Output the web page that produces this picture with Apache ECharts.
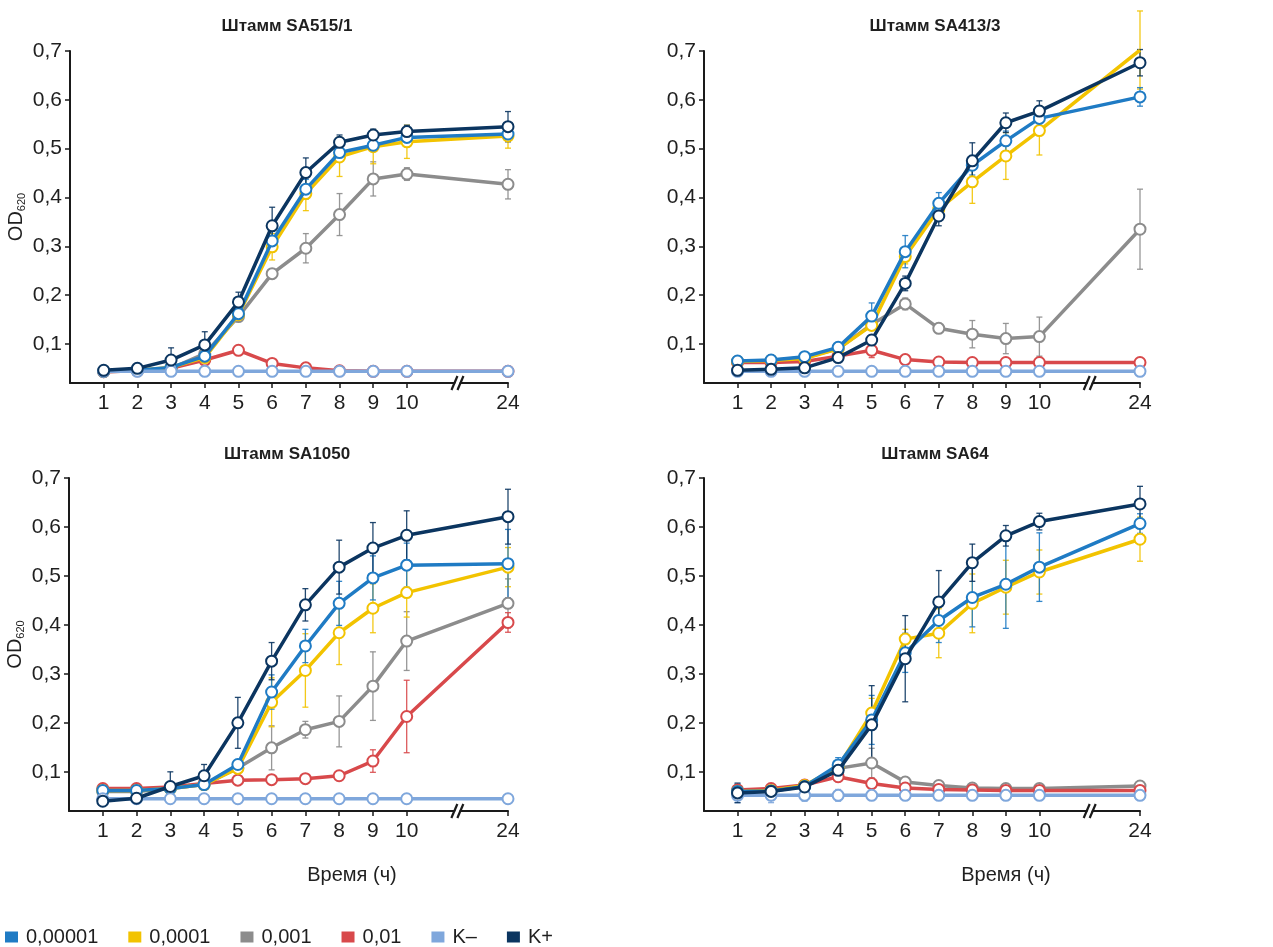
<!DOCTYPE html>
<html>
<head>
<meta charset="utf-8">
<title>OD620</title>
<script src="https://cdn.jsdelivr.net/npm/echarts@6/dist/echarts.min.js"></script>
<style>
  html, body { margin: 0; padding: 0; background: #fff; }
  #chart { width: 1273px; height: 947px; }
</style>
</head>
<body>
<div id="chart"></div>
<script>
  /******************/
  //region    //data

  const hours = [1, 2, 3, 4, 5, 6, 7, 8, 9, 10, 24];
  const yTicks = [0.1, 0.2, 0.3, 0.4, 0.5, 0.6, 0.7];
  const seriesNames = ['0,00001', '0,0001', '0,001', '0,01', 'K\u2013', 'K+'];
  const strainTitles = ['Штамм SA515/1', 'Штамм SA413/3', 'Штамм SA1050', 'Штамм SA64'];

  // Штамм SA515/1
  const sa515_c00001 = [0.044, 0.046, 0.052, 0.075, 0.162, 0.311, 0.417, 0.492, 0.507, 0.523, 0.530];
  const sa515_c00001_err = [0, 0, 0, 0.008, 0.010, 0.020, 0.020, 0.015, 0.012, 0.010, 0.015];
  const sa515_c0001 = [0.044, 0.046, 0.052, 0.072, 0.160, 0.299, 0.408, 0.483, 0.504, 0.514, 0.526];
  const sa515_c0001_err = [0, 0, 0, 0.005, 0.010, 0.027, 0.035, 0.040, 0.035, 0.034, 0.025];
  const sa515_c001 = [0.043, 0.045, 0.050, 0.080, 0.156, 0.244, 0.296, 0.365, 0.438, 0.448, 0.427];
  const sa515_c001_err = [0, 0, 0, 0, 0.008, 0.010, 0.030, 0.043, 0.035, 0.013, 0.030];
  const sa515_c01 = [0.043, 0.045, 0.050, 0.067, 0.087, 0.060, 0.051, 0.045, 0.044, 0.044, 0.044];
  const sa515_c01_err = [0, 0, 0, 0, 0.006, 0, 0, 0, 0, 0, 0];
  const sa515_kNeg = [0.044, 0.044, 0.044, 0.044, 0.044, 0.044, 0.044, 0.044, 0.044, 0.044, 0.044];
  const sa515_kNeg_err = [0, 0, 0, 0, 0, 0, 0, 0, 0, 0, 0];
  const sa515_kPos = [0.046, 0.050, 0.067, 0.098, 0.186, 0.342, 0.451, 0.513, 0.528, 0.535, 0.545];
  const sa515_kPos_err = [0, 0, 0.025, 0.027, 0.020, 0.038, 0.030, 0.015, 0.012, 0.013, 0.031];

  // Штамм SA413/3
  const sa413_c00001 = [0.065, 0.067, 0.074, 0.093, 0.157, 0.289, 0.388, 0.466, 0.516, 0.562, 0.606];
  const sa413_c00001_err = [0, 0, 0, 0.005, 0.027, 0.033, 0.022, 0.020, 0.020, 0.020, 0.019];
  const sa413_c0001 = [0.064, 0.066, 0.070, 0.090, 0.138, 0.279, 0.376, 0.432, 0.485, 0.537, 0.702];
  const sa413_c0001_err = [0, 0, 0, 0, 0.010, 0.015, 0.020, 0.044, 0.048, 0.050, 0.080];
  const sa413_c001 = [0.064, 0.066, 0.072, 0.090, 0.140, 0.182, 0.132, 0.120, 0.111, 0.115, 0.335];
  const sa413_c001_err = [0, 0, 0, 0, 0, 0.012, 0.010, 0.028, 0.031, 0.040, 0.082];
  const sa413_c01 = [0.062, 0.062, 0.064, 0.075, 0.087, 0.068, 0.063, 0.062, 0.062, 0.062, 0.062];
  const sa413_c01_err = [0, 0, 0, 0, 0.015, 0, 0, 0, 0, 0, 0];
  const sa413_kNeg = [0.044, 0.044, 0.044, 0.044, 0.044, 0.044, 0.044, 0.044, 0.044, 0.044, 0.044];
  const sa413_kNeg_err = [0, 0, 0, 0, 0, 0, 0, 0, 0, 0, 0];
  const sa413_kPos = [0.046, 0.048, 0.051, 0.072, 0.108, 0.224, 0.362, 0.475, 0.553, 0.577, 0.676];
  const sa413_kPos_err = [0, 0, 0, 0, 0.010, 0.015, 0.020, 0.037, 0.020, 0.021, 0.027];

  // Штамм SA1050
  const sa1050_c00001 = [0.062, 0.062, 0.066, 0.074, 0.115, 0.263, 0.357, 0.444, 0.496, 0.522, 0.525];
  const sa1050_c00001_err = [0, 0, 0, 0, 0.010, 0.035, 0.034, 0.045, 0.045, 0.045, 0.070];
  const sa1050_c0001 = [0.062, 0.062, 0.066, 0.074, 0.107, 0.242, 0.307, 0.384, 0.434, 0.466, 0.518];
  const sa1050_c0001_err = [0, 0, 0, 0, 0, 0.050, 0.075, 0.065, 0.050, 0.050, 0.040];
  const sa1050_c001 = [0.060, 0.060, 0.066, 0.074, 0.108, 0.149, 0.186, 0.203, 0.275, 0.367, 0.444];
  const sa1050_c001_err = [0, 0, 0, 0, 0, 0.045, 0.017, 0.052, 0.070, 0.060, 0.050];
  const sa1050_c01 = [0.066, 0.066, 0.069, 0.076, 0.083, 0.084, 0.086, 0.092, 0.122, 0.213, 0.405];
  const sa1050_c01_err = [0, 0, 0, 0, 0, 0, 0, 0, 0.023, 0.074, 0.020];
  const sa1050_kNeg = [0.045, 0.045, 0.045, 0.045, 0.045, 0.045, 0.045, 0.045, 0.045, 0.045, 0.045];
  const sa1050_kNeg_err = [0, 0, 0, 0, 0, 0, 0, 0, 0, 0, 0];
  const sa1050_kPos = [0.040, 0.046, 0.070, 0.092, 0.200, 0.326, 0.441, 0.518, 0.557, 0.583, 0.621];
  const sa1050_kPos_err = [0, 0, 0.030, 0.023, 0.052, 0.038, 0.033, 0.055, 0.052, 0.050, 0.056];

  // Штамм SA64
  const sa64_c00001 = [0.060, 0.061, 0.070, 0.114, 0.206, 0.343, 0.409, 0.456, 0.483, 0.518, 0.607];
  const sa64_c00001_err = [0.015, 0.012, 0.010, 0.015, 0.050, 0.040, 0.045, 0.060, 0.090, 0.070, 0.020];
  const sa64_c0001 = [0.060, 0.062, 0.072, 0.110, 0.220, 0.371, 0.383, 0.444, 0.477, 0.508, 0.575];
  const sa64_c0001_err = [0, 0, 0, 0.010, 0.030, 0.020, 0.050, 0.060, 0.055, 0.045, 0.045];
  const sa64_c001 = [0.060, 0.062, 0.072, 0.107, 0.118, 0.079, 0.072, 0.067, 0.066, 0.066, 0.071];
  const sa64_c001_err = [0, 0, 0, 0, 0.030, 0, 0, 0, 0, 0, 0];
  const sa64_c01 = [0.063, 0.066, 0.073, 0.090, 0.076, 0.067, 0.064, 0.063, 0.062, 0.062, 0.062];
  const sa64_c01_err = [0.010, 0.010, 0.005, 0.010, 0, 0, 0, 0, 0, 0, 0];
  const sa64_kNeg = [0.052, 0.052, 0.052, 0.052, 0.052, 0.052, 0.052, 0.052, 0.052, 0.052, 0.052];
  const sa64_kNeg_err = [0.015, 0.015, 0.012, 0.012, 0.010, 0.010, 0.010, 0.010, 0.010, 0.010, 0.010];
  const sa64_kPos = [0.057, 0.060, 0.069, 0.103, 0.196, 0.331, 0.447, 0.527, 0.582, 0.611, 0.647];
  const sa64_kPos_err = [0.020, 0.015, 0.010, 0.020, 0.080, 0.088, 0.064, 0.038, 0.021, 0.017, 0.036];

  //endregion

  /******************/
  //region    //layout

  const colors = ['#1f7bc4', '#f2c300', '#8c8c8c', '#d8494b', '#7fa7dc', '#0b3560'];
  // draw order: gray, red, yellow, blue, K-, K+
  const drawOrder = [2, 3, 1, 0, 4, 5];
  const textColor = '#1f1f1f';
  const narrow = "'Liberation Sans Narrow', 'Arial Narrow', 'Liberation Sans', sans-serif";
  const regular = "'Liberation Sans', Arial, sans-serif";

  const grids = [
    {left: 70, top: 51, width: 438, height: 332},
    {left: 704, top: 51, width: 436, height: 332},
    {left: 69, top: 478, width: 439, height: 333},
    {left: 704, top: 478, width: 436, height: 333},
  ];

  const panels = [
    [[sa515_c00001, sa515_c00001_err], [sa515_c0001, sa515_c0001_err], [sa515_c001, sa515_c001_err],
     [sa515_c01, sa515_c01_err], [sa515_kNeg, sa515_kNeg_err], [sa515_kPos, sa515_kPos_err]],
    [[sa413_c00001, sa413_c00001_err], [sa413_c0001, sa413_c0001_err], [sa413_c001, sa413_c001_err],
     [sa413_c01, sa413_c01_err], [sa413_kNeg, sa413_kNeg_err], [sa413_kPos, sa413_kPos_err]],
    [[sa1050_c00001, sa1050_c00001_err], [sa1050_c0001, sa1050_c0001_err], [sa1050_c001, sa1050_c001_err],
     [sa1050_c01, sa1050_c01_err], [sa1050_kNeg, sa1050_kNeg_err], [sa1050_kPos, sa1050_kPos_err]],
    [[sa64_c00001, sa64_c00001_err], [sa64_c0001, sa64_c0001_err], [sa64_c001, sa64_c001_err],
     [sa64_c01, sa64_c01_err], [sa64_kNeg, sa64_kNeg_err], [sa64_kPos, sa64_kPos_err]],
  ];

  // the axis is broken between 10 and 24 h
  function axisPos(h) {
    return h <= 10 ? h : 13;
  }
  const breakPos = 11.5;
  const yMin = 0.02, yMax = 0.7;

  //endregion

  /******************/
  //region    //function

  function errorBars(params, api) {
    let x = api.value(0), y = api.value(1), e = api.value(2);
    if (!e) return null;
    let top = api.coord([x, y + e]);
    let bot = api.coord([x, y - e]);
    let c = api.visual('color');
    let st = {stroke: c, lineWidth: 1.3, opacity: 0.9};
    return {
      type: 'group',
      children: [
        {type: 'line', shape: {x1: top[0], y1: top[1], x2: bot[0], y2: bot[1]}, style: st},
        {type: 'line', shape: {x1: top[0] - 3, y1: top[1], x2: top[0] + 3, y2: top[1]}, style: st},
        {type: 'line', shape: {x1: bot[0] - 3, y1: bot[1], x2: bot[0] + 3, y2: bot[1]}, style: st},
      ]
    };
  }

  function breakMark(params, api) {
    let p = api.coord([api.value(0), api.value(1)]);
    let st = {stroke: '#1a1a1a', lineWidth: 2.2};
    return {
      type: 'group',
      children: [
        {type: 'polygon', shape: {points: [[p[0] - 5, p[1] + 7], [p[0] - 1, p[1] + 7], [p[0] + 5, p[1] - 7], [p[0] + 1, p[1] - 7]]},
          style: {fill: '#fff'}},
        {type: 'line', shape: {x1: p[0] - 6, y1: p[1] + 7, x2: p[0], y2: p[1] - 7}, style: st},
        {type: 'line', shape: {x1: p[0], y1: p[1] + 7, x2: p[0] + 6, y2: p[1] - 7}, style: st},
      ]
    };
  }

  function deployChart() {
    let chart = echarts.init(document.getElementById('chart'));

    let xAxis = [], yAxis = [], series = [];
    let tickPos = hours.map(axisPos);

    grids.forEach((g, i) => {
      xAxis.push({
        type: 'value', gridIndex: i, min: 0, max: 13,
        axisLine: {lineStyle: {color: '#1a1a1a', width: 2}},
        axisTick: {customValues: tickPos, length: 5, lineStyle: {color: '#1a1a1a', width: 1.5}},
        axisLabel: {
          customValues: tickPos, margin: 10, color: textColor, fontSize: 21, fontFamily: narrow,
          formatter: (v) => String(hours[tickPos.indexOf(v)]),
        },
        splitLine: {show: false},
      });
      yAxis.push({
        type: 'value', gridIndex: i, min: yMin, max: yMax,
        name: i % 2 === 0 ? '{a|OD}{b|620}' : '',
        nameLocation: 'middle', nameGap: 43,
        nameTextStyle: {
          rich: {
            a: {fontSize: 20, color: textColor, fontFamily: regular, lineHeight: 22},
            b: {fontSize: 11, color: textColor, fontFamily: regular, verticalAlign: 'bottom', lineHeight: 22},
          }
        },
        axisLine: {lineStyle: {color: '#1a1a1a', width: 2}},
        axisTick: {customValues: yTicks, length: 5, lineStyle: {color: '#1a1a1a', width: 1.5}},
        axisLabel: {
          customValues: yTicks, margin: 8, color: textColor, fontSize: 21, fontFamily: narrow,
          formatter: (v) => v.toFixed(1).replace('.', ','),
        },
        splitLine: {show: false},
      });

      drawOrder.forEach((k, n) => {
        let [vals, errs] = panels[i][k];
        series.push({
          type: 'custom', name: seriesNames[k], xAxisIndex: i, yAxisIndex: i,
          renderItem: errorBars, z: 2 + n * 0.01,
          itemStyle: {color: colors[k]},
          encode: {x: 0, y: 1},
          data: hours.map((h, j) => [axisPos(h), vals[j], errs[j]]),
          silent: true,
        });
      });
      drawOrder.forEach((k, n) => {
        let [vals] = panels[i][k];
        series.push({
          type: 'line', name: seriesNames[k], xAxisIndex: i, yAxisIndex: i,
          z: 3 + n * 0.1,
          symbol: 'circle', symbolSize: 11,
          lineStyle: {width: 3.5, color: colors[k]},
          itemStyle: {color: '#fff', borderColor: colors[k], borderWidth: 2},
          emphasis: {disabled: true},
          data: hours.map((h, j) => [axisPos(h), vals[j]]),
        });
      });
      series.push({
        type: 'custom', xAxisIndex: i, yAxisIndex: i, z: 5, silent: true,
        renderItem: breakMark,
        data: [[breakPos, yMin]],
      });
    });

    let titles = strainTitles.map((t, i) => ({
      text: t, left: i % 2 === 0 ? 282 : 930, top: i < 2 ? 13 : 441, textAlign: 'center',
      textStyle: {fontSize: 17, fontWeight: 'bold', color: textColor, fontFamily: regular},
    }));
    [347, 1001].forEach((x) => {
      titles.push({
        text: 'Время (ч)', left: x, top: 860, textAlign: 'center',
        textStyle: {fontSize: 20, fontWeight: 'normal', color: textColor, fontFamily: regular},
      });
    });

    let option = {
      animation: false,
      backgroundColor: '#fff',
      title: titles,
      grid: grids,
      xAxis, yAxis, series,
      legend: {
        left: 0, top: 922, icon: 'rect', itemWidth: 13, itemHeight: 11, itemGap: 30,
        textStyle: {fontSize: 20, color: textColor, fontFamily: regular, padding: [0, 0, 0, 3]},
        data: seriesNames.map((n, k) => ({name: n, itemStyle: {color: colors[k], borderWidth: 0}})),
      },
    };

    chart.setOption(option);
  }

  deployChart();

  //endregion
</script>
</body>
</html>
